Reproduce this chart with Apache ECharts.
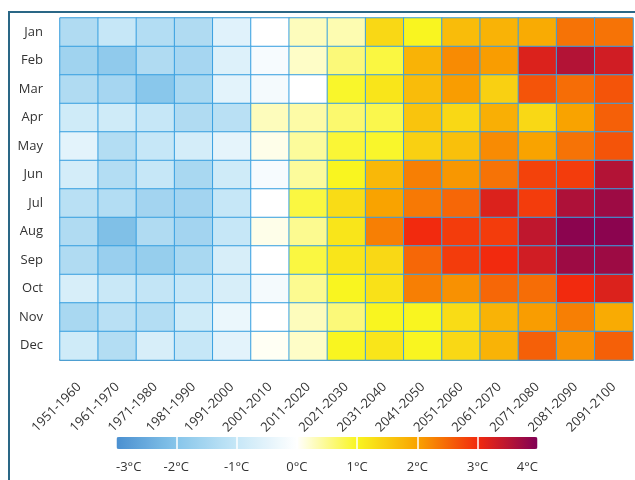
<!DOCTYPE html>
<html>
<head>
<meta charset="utf-8">
<script src="https://cdn.jsdelivr.net/npm/echarts@6/dist/echarts.min.js"></script>
<style>
html,body{margin:0;padding:0;background:#fff;}
#chart{width:635px;height:480px;}
</style>
</head>
<body>
<div id="chart"></div>
<script>
// Categories
var decades = ['1951-1960','1961-1970','1971-1980','1981-1990','1991-2000','2001-2010','2011-2020','2021-2030','2031-2040','2041-2050','2051-2060','2061-2070','2071-2080','2081-2090','2091-2100'];
var months = ['Jan','Feb','Mar','Apr','May','Jun','Jul','Aug','Sep','Oct','Nov','Dec'];

// Temperature anomalies (°C) per month, one value per decade
var jan = [-1.35,-1.0,-1.3,-1.35,-0.55,0.0,0.3,0.35,1.35,1.0,1.7,1.8,1.9,2.4,2.4];
var feb = [-1.6,-1.85,-1.35,-1.5,-0.6,-0.15,0.25,0.6,0.85,1.8,2.2,2.05,3.2,3.55,3.3];
var mar = [-1.35,-1.5,-1.95,-1.45,-0.5,-0.2,0.0,0.95,1.2,1.7,2.05,1.45,2.65,2.45,2.65];
var apr = [-0.85,-0.85,-1.0,-1.35,-1.2,0.3,0.4,0.65,0.8,1.6,1.35,1.85,1.35,2.0,2.55];
var may = [-0.5,-1.3,-1.0,-0.75,-0.45,0.1,0.45,0.9,0.95,1.45,1.65,2.2,2.0,2.4,2.65];
var jun = [-0.75,-1.3,-1.0,-1.45,-0.85,-0.15,0.45,1.0,1.75,2.3,2.1,2.4,2.8,2.85,3.55];
var jul = [-1.2,-1.3,-1.55,-1.55,-1.0,0.0,0.85,1.3,2.0,2.35,2.5,3.2,2.85,3.6,3.75];
var aug = [-1.35,-2.1,-1.35,-1.55,-1.0,0.1,0.5,1.2,2.3,3.0,2.85,2.85,3.45,3.9,3.9];
var sep = [-1.35,-1.7,-1.75,-1.45,-0.7,0.0,0.85,1.2,1.35,2.5,2.85,3.0,3.3,3.75,3.75];
var oct = [-0.7,-0.95,-1.05,-1.0,-0.7,-0.2,0.5,1.0,1.25,2.3,2.15,2.5,2.45,3.0,3.2];
var nov = [-1.45,-1.2,-1.3,-0.85,-0.35,0.0,0.3,0.6,1.0,1.0,1.3,1.8,2.05,2.3,1.9];
var dec = [-0.85,-1.3,-0.7,-1.0,-0.5,0.05,0.25,1.0,1.2,1.0,1.35,1.8,2.55,2.15,2.55];

// Colour scale
var scaleMin = -3, scaleMax = 4;
var scaleColors = ['#4a8fd0','#86c5ea','#c6e7f7','#ffffff','#f9f520','#f9a300','#f22a0e','#800056'];

var rows = [jan,feb,mar,apr,may,jun,jul,aug,sep,oct,nov,dec];
var data = [];
rows.forEach(function(r, mi){
  r.forEach(function(v, di){ data.push([di, mi, v]); });
});

var font = "'Open Sans', 'Noto Sans', sans-serif";
var chart = echarts.init(document.getElementById('chart'), null, {renderer:'canvas'});
chart.setOption({
  animation: false,
  backgroundColor: '#fff',
  textStyle: {fontFamily: font},
  graphic: [{
    type: 'rect', z: 100, silent: true,
    shape: {x: 9, y: 12, width: 700, height: 600},
    style: {fill: 'none', stroke: '#2a6786', lineWidth: 2}
  }],
  grid: [
    {left: 60, right: 2, top: 18, bottom: 120, show: true, borderColor: '#cccccc', borderWidth: 1},
    {left: 116, top: 437, width: 422, height: 12, show: false}
  ],
  xAxis: [
    {type: 'category', data: decades, gridIndex: 0,
     axisTick: {show: false},
     axisLine: {lineStyle: {color: '#55626a', width: 1.5}},
     axisLabel: {rotate: 45, interval: 0, margin: 25, fontSize: 13, color: '#333', fontFamily: font},
     splitLine: {show: false}},
    {type: 'value', gridIndex: 1, min: scaleMin, max: scaleMax, interval: 1, z: 10,
     axisLine: {show: false}, axisTick: {show: false},
     splitLine: {show: true, lineStyle: {color: '#ffffff', width: 1.5}},
     axisLabel: {formatter: '{value}°C', margin: 12, fontSize: 13, color: '#333', fontFamily: font,
                 alignMinLabel: 'left', alignMaxLabel: 'right'}}
  ],
  yAxis: [
    {type: 'category', data: months, inverse: true, gridIndex: 0,
     axisTick: {show: false}, axisLine: {show: false},
     axisLabel: {margin: 17, fontSize: 13, color: '#333', fontFamily: font},
     splitLine: {show: false}},
    {type: 'category', data: [''], gridIndex: 1, show: false}
  ],
  visualMap: {
    type: 'continuous', min: scaleMin, max: scaleMax, calculable: false,
    orient: 'horizontal', left: 116, top: 437, itemWidth: 12, itemHeight: 422,
    padding: 0, seriesIndex: 0, dimension: 2, hoverLink: false,
    inRange: {color: scaleColors}
  },
  series: [{
    type: 'heatmap', xAxisIndex: 0, yAxisIndex: 0, data: data,
    itemStyle: {borderColor: '#3aa0e0', borderWidth: 1},
    emphasis: {disabled: true}
  }]
});
</script>
</body>
</html>
